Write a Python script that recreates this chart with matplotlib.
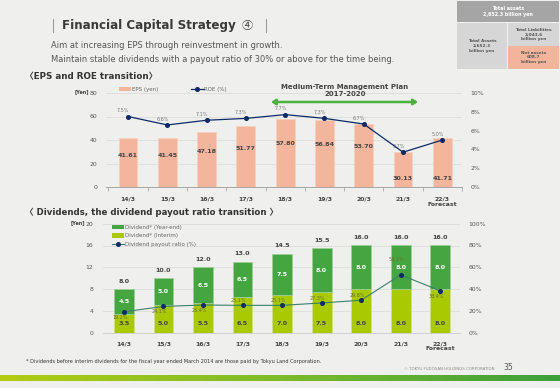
import matplotlib
matplotlib.use("Agg")
import matplotlib.pyplot as plt
import numpy as np
from matplotlib.patches import Patch, Rectangle, FancyArrowPatch
from matplotlib.lines import Line2D
from matplotlib.colors import LinearSegmentedColormap

plt.rcParams['font.family'] = ['DejaVu Sans', 'Noto Sans CJK JP']

# ---------------- data ----------------
categories = ["14/3", "15/3", "16/3", "17/3", "18/3", "19/3", "20/3", "21/3", "22/3\nForecast"]
eps = [41.61, 41.45, 47.18, 51.77, 57.80, 56.84, 53.70, 30.13, 41.71]
roe = [7.5, 6.6, 7.1, 7.3, 7.7, 7.3, 6.7, 3.7, 5.0]
div_interim = [3.5, 5.0, 5.5, 6.5, 7.0, 7.5, 8.0, 8.0, 8.0]
div_yearend = [4.5, 5.0, 6.5, 6.5, 7.5, 8.0, 8.0, 8.0, 8.0]
div_total = [8.0, 10.0, 12.0, 13.0, 14.5, 15.5, 16.0, 16.0, 16.0]
payout = [19.2, 24.1, 25.4, 25.1, 25.1, 27.3, 29.8, 53.1, 38.4]
payout_label_above = [False, False, False, True, True, True, True, True, False]

BG = '#efefed'
SALMON = '#f3b59b'
NAVY = '#0d2a66'
GREEN = '#45a540'
YGREEN = '#a9c900'
TEAL = '#3d7f6c'
TXT = '#444444'
GRID = '#dcdcdc'

W, H = 560, 388
fig = plt.figure(figsize=(W / 100, H / 100), dpi=100, facecolor=BG)

def fx(px):
    return px / W

def fy(py):
    return 1 - py / H

# ---------------- header ----------------
fig.add_artist(Line2D([fx(53), fx(53)], [fy(19), fy(32)], color='#888888', lw=0.6))
fig.add_artist(Line2D([fx(266), fx(266)], [fy(19), fy(32)], color='#888888', lw=0.6))
fig.text(fx(62), fy(25.5), "Financial Capital Strategy", fontsize=8.6, fontweight='bold',
         color='#3a3a3a', va='center', ha='left')
fig.text(fx(247.5), fy(25.5), "④", fontsize=8.0, color='#3a3a3a', va='center', ha='center',
         family=['Noto Sans CJK JP', 'DejaVu Sans'])
fig.text(fx(51), fy(46), "Aim at increasing EPS through reinvestment in growth.", fontsize=6.0,
         color='#555555', va='center')
fig.text(fx(51), fy(59), "Maintain stable dividends with a payout ratio of 30% or above for the time being.",
         fontsize=6.0, color='#555555', va='center')
fig.text(fx(25), fy(76.5), "〈EPS and ROE transition〉", fontsize=6.3, fontweight='bold',
         color='#333333', va='center')
fig.text(fx(25), fy(212), "〈 Dividends, the dividend payout ratio transition 〉", fontsize=6.2,
         fontweight='bold', color='#333333', va='center')

# balance-sheet boxes (top right)
def box(x0, y0, x1, y1, color):
    fig.add_artist(Rectangle((fx(x0), fy(y1)), fx(x1) - fx(x0), fy(y0) - fy(y1),
                             transform=fig.transFigure, facecolor=color, edgecolor='none'))

box(457, 1, 559, 22, '#a5a5a5')
box(457, 23.5, 507, 69, '#d6d6d6')
box(508, 23.5, 559, 45.5, '#d6d6d6')
box(508, 46.5, 559, 69, '#f2b59b')
fig.text(fx(508), fy(11.5), "Total assets\n2,652.3 billion yen", fontsize=3.4, color='white',
         fontweight='bold', ha='center', va='center', linespacing=1.2)
fig.text(fx(482), fy(46), "Total Assets\n2,652.3\nbillion yen", fontsize=3.1, color='#555555',
         fontweight='bold', ha='center', va='center', linespacing=1.2)
fig.text(fx(533.5), fy(34.5), "Total Liabilities\n2,043.6\nbillion yen", fontsize=3.1, color='#555555',
         fontweight='bold', ha='center', va='center', linespacing=1.2)
fig.text(fx(533.5), fy(57.5), "Net assets\n608.7\nbillion yen", fontsize=3.1, color='#555555',
         fontweight='bold', ha='center', va='center', linespacing=1.2)

x = np.arange(len(categories))

# ---------------- top chart: EPS & ROE ----------------
ax1 = fig.add_axes([fx(106), fy(187), fx(462) - fx(106), fy(93) - fy(187)])
ax1.set_facecolor('none')
ax1.set_xlim(-0.56, 8.48)
ax1.set_ylim(0, 80)
ax1.set_yticks([0, 20, 40, 60, 80])
ax1.yaxis.grid(True, color=GRID, lw=0.6)
ax1.set_axisbelow(True)
ax1.bar(x, eps, width=0.48, color=SALMON, edgecolor='#f7d0bf', linewidth=0.6, zorder=2)
for i, v in enumerate(eps):
    ly = 7 if i >= 7 else v * 0.64
    ax1.text(i, ly, f"{v:.2f}", ha='center', va='center', fontsize=4.6, fontweight='bold',
             color=TXT, zorder=4)
for s in ['top', 'left', 'right']:
    ax1.spines[s].set_visible(False)
ax1.spines['bottom'].set_color('#999999')
ax1.spines['bottom'].set_linewidth(0.6)
ax1.set_xticks(x)
ax1.set_xticklabels(categories, fontsize=4.4, fontweight='bold', color=TXT, linespacing=1.1)
ax1.set_xticks(np.arange(-0.5, 9, 1), minor=True)
ax1.tick_params(axis='x', which='major', length=0, pad=7)
ax1.tick_params(axis='x', which='minor', length=3, width=0.5, color='#999999')
ax1.tick_params(axis='y', length=0, labelsize=4.4, labelcolor='#555555', pad=6)

ax1r = ax1.twinx()
ax1r.set_ylim(0, 10)
ax1r.set_yticks([0, 2, 4, 6, 8, 10])
ax1r.set_yticklabels([f"{t}%" for t in [0, 2, 4, 6, 8, 10]])
ax1r.tick_params(axis='y', length=0, labelsize=4.4, labelcolor='#555555', pad=6)
for s in ['top', 'left', 'right', 'bottom']:
    ax1r.spines[s].set_visible(False)
ax1r.plot(x, roe, color=NAVY, lw=0.9, marker='o', ms=2.6, zorder=5)
for i, v in enumerate(roe):
    ax1r.text(i - 0.12, v + 0.35, f"{v:.1f}%", fontsize=3.5, color='#777777', ha='center',
              va='bottom')

fig.text(fx(89), fy(92), "[Yen]", fontsize=3.6, fontweight='bold', color=TXT, ha='right', va='center')

fig.legend([Patch(facecolor=SALMON, edgecolor='none'),
            Line2D([], [], color=NAVY, lw=0.9, marker='o', ms=2.6)],
           ["EPS (yen)", "ROE (%)"], ncol=2, frameon=False, fontsize=4.0,
           loc='center left', bbox_to_anchor=(fx(119), fy(89.5)),
           handlelength=2.2, handleheight=0.8, columnspacing=6.0, handletextpad=0.1,
           labelcolor='#666666', borderaxespad=0, borderpad=0)

# medium-term plan annotation
fig.text(fx(345), fy(87), "Medium-Term Management Plan", fontsize=5.0, fontweight='bold',
         color='#444444', ha='center', va='center')
fig.text(fx(345), fy(94.5), "2017-2020", fontsize=5.0, fontweight='bold', color='#444444',
         ha='center', va='center')
fig.add_artist(FancyArrowPatch((fx(271), fy(102)), (fx(418), fy(102)),
                               transform=fig.transFigure, arrowstyle='<|-|>,head_length=2.5,head_width=1.6',
                               color='#4caf3e', lw=1.8, shrinkA=0, shrinkB=0))

# ---------------- bottom chart: dividends ----------------
ax2 = fig.add_axes([fx(103), fy(332.7), fx(460) - fx(103), fy(223.7) - fy(332.7)])
ax2.set_facecolor('none')
ax2.set_xlim(-0.53, 8.5)
ax2.set_ylim(0, 20)
ax2.set_yticks([0, 4, 8, 12, 16, 20])
ax2.yaxis.grid(True, color=GRID, lw=0.6)
ax2.set_axisbelow(True)
ax2.bar(x, div_interim, width=0.5, color=YGREEN, edgecolor='#cfe08a', linewidth=0.6, zorder=2)
ax2.bar(x, div_yearend, bottom=div_interim, width=0.5, color=GREEN, edgecolor='#9ccf96',
        linewidth=0.6, zorder=2)
for i in range(len(categories)):
    ax2.text(i, 1.6, f"{div_interim[i]:.1f}", ha='center', va='center', fontsize=4.6,
             fontweight='bold', color=TXT, zorder=4)
    ax2.text(i, div_interim[i] + div_yearend[i] / 2, f"{div_yearend[i]:.1f}", ha='center',
             va='center', fontsize=4.6, fontweight='bold', color='white', zorder=4)
    ax2.text(i, div_total[i] + 1.0, f"{div_total[i]:.1f}", ha='center', va='bottom', fontsize=4.6,
             fontweight='bold', color=TXT, zorder=4)
for s in ['top', 'left', 'right']:
    ax2.spines[s].set_visible(False)
ax2.spines['bottom'].set_color('#cccccc')
ax2.spines['bottom'].set_linewidth(0.6)
ax2.set_xticks(x)
ax2.set_xticklabels(categories, fontsize=4.4, fontweight='bold', color=TXT, linespacing=1.1)
ax2.tick_params(axis='x', length=0, pad=6)
ax2.tick_params(axis='y', length=0, labelsize=4.4, labelcolor='#555555', pad=7)

ax2r = ax2.twinx()
ax2r.set_ylim(0, 100)
ax2r.set_yticks([0, 20, 40, 60, 80, 100])
ax2r.set_yticklabels([f"{t}%" for t in [0, 20, 40, 60, 80, 100]])
ax2r.tick_params(axis='y', length=0, labelsize=4.4, labelcolor='#555555', pad=6)
for s in ['top', 'left', 'right', 'bottom']:
    ax2r.spines[s].set_visible(False)
ax2r.plot(x, payout, color=TEAL, lw=0.8, marker='o', ms=2.6, mfc=NAVY, mec=NAVY, zorder=5)
for i, v in enumerate(payout):
    if payout_label_above[i]:
        off = 14 if v > 50 else 4
        ax2r.text(i - 0.1, v + off, f"{v:.1f}%", fontsize=3.5, color='#6b6b2e', ha='center',
                  va='center')
    else:
        ax2r.text(i - 0.1, v - 5, f"{v:.1f}%", fontsize=3.5, color='#6b6b2e', ha='center',
                  va='center')

fig.text(fx(85), fy(223), "[Yen]", fontsize=3.6, fontweight='bold', color=TXT, ha='right', va='center')

fig.legend([Patch(facecolor=GREEN, edgecolor='none'), Patch(facecolor=YGREEN, edgecolor='none'),
            Line2D([], [], color=TEAL, lw=0.8, marker='o', ms=2.6, mfc=NAVY, mec=NAVY)],
           ["Dividend* (Year-end)", "Dividend* (Interim)", "Dividend payout ratio (%)"],
           ncol=1, frameon=False, fontsize=4.0, loc='upper left',
           bbox_to_anchor=(fx(112), fy(225)), handlelength=2.2, handleheight=0.8,
           handletextpad=0.1, labelspacing=0.6, labelcolor='#666666', borderaxespad=0, borderpad=0)

# ---------------- footer ----------------
fig.text(fx(26), fy(361), "* Dividends before interim dividends for the fiscal year ended March 2014 are those paid by Tokyu Land Corporation.",
         fontsize=3.6, color='#333333', va='center')
fig.text(fx(494), fy(369), "© TOKYU FUDOSAN HOLDINGS CORPORATION", fontsize=2.8, color='#888888',
         ha='right', va='center')
fig.text(fx(503), fy(368), "35", fontsize=5.5, color='#555555', ha='left', va='center')

axg = fig.add_axes([0, fy(381), 1, fy(375) - fy(381)])
grad = np.linspace(0, 1, 256)[None, :]
cmap = LinearSegmentedColormap.from_list('g', ['#b2cc12', '#7cbb2a', '#3d9f3b'])
axg.imshow(grad, aspect='auto', cmap=cmap, extent=[0, 1, 0, 1])
axg.axis('off')

fig.savefig("out.png", dpi=100, facecolor=BG)
